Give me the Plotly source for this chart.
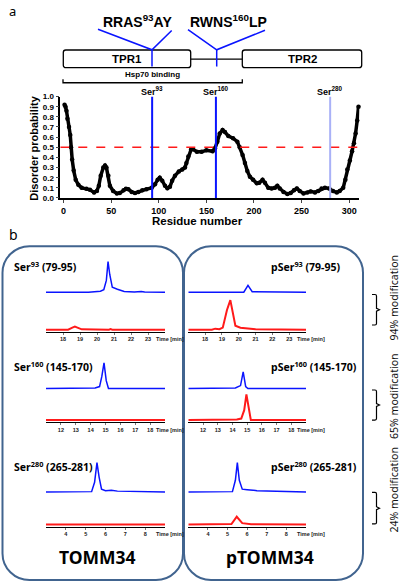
import plotly.graph_objects as go

W, H = 400, 588

# ---------------- data ----------------
residue = [1, 2, 3, 4, 5.7, 7, 7.8, 9, 10.6, 12.7, 15.5, 19, 24, 27.7, 32, 35, 37, 39, 41.7, 43.5, 45, 47, 48.6,
           52, 56, 59, 63, 65.5, 68, 71.5, 75, 78.5, 82.7, 87, 92.5, 96, 98.8, 101, 103.6, 106.5, 109, 111.7,
           114, 117, 121, 124.7, 127.5, 129, 131, 134, 136, 140, 145, 150, 156.5, 159, 161.5, 164, 167, 169.5,
           173, 178, 182.5, 185, 188, 190.5, 193, 195.7, 199, 203, 205.5, 209, 211.5, 215, 218.5, 222, 224.5,
           227, 231, 235, 238.5, 242, 245, 248, 252, 256, 259.5, 264, 267.5, 271, 274.5, 279, 283, 287, 290,
           293.7, 296, 298, 300.7, 303, 305, 306.7, 308.4, 309.8]
disorder = [0.92, 0.90, 0.86, 0.78, 0.70, 0.62, 0.50, 0.38, 0.27, 0.18, 0.13, 0.10, 0.09, 0.08, 0.055, 0.07, 0.12,
            0.22, 0.30, 0.32, 0.30, 0.22, 0.12, 0.07, 0.045, 0.048, 0.077, 0.09, 0.087, 0.06, 0.048, 0.06, 0.077,
            0.087, 0.10, 0.135, 0.18, 0.20, 0.17, 0.12, 0.095, 0.11, 0.17, 0.22, 0.26, 0.28, 0.30, 0.345, 0.41,
            0.48, 0.48, 0.455, 0.455, 0.47, 0.46, 0.49, 0.555, 0.635, 0.67, 0.65, 0.61, 0.59, 0.555, 0.50, 0.425,
            0.345, 0.265, 0.21, 0.18, 0.145, 0.15, 0.18, 0.15, 0.10, 0.094, 0.10, 0.12, 0.094, 0.06, 0.04, 0.048,
            0.077, 0.094, 0.07, 0.045, 0.055, 0.065, 0.055, 0.07, 0.094, 0.10, 0.094, 0.068, 0.055, 0.068, 0.10,
            0.18, 0.28, 0.37, 0.46, 0.54, 0.635, 0.765, 0.90]
ser_sites = [93, 160, 280]
x_ticks = [0, 50, 100, 150, 200, 250, 300]
y_ticks = [0, 0.1, 0.2, 0.3, 0.4, 0.5, 0.6, 0.7, 0.8, 0.9, 1.0]

# chromatograms: (unmodified blue, unmodified red) / (phospho blue, phospho red)
s93_blue_t = [17, 19.5, 20.2, 20.4, 20.55, 20.65, 20.75, 20.9, 21.2, 21.6, 22.2, 22.6, 22.8, 24]
s93_blue_i = [0, 0, 1, 2.5, 12, 31, 18, 5, 3, 0.8, 0.3, 0.8, 0.2, 0]
s93_red_t = [17, 18.3, 18.55, 18.7, 18.85, 19.1, 20.7, 20.8, 20.9, 24]
s93_red_i = [0, 0, 2, 3, 2, 0.3, 0, 0.6, 0, 0]
p93_blue_t = [17, 20.3, 20.55, 20.8, 24]
p93_blue_i = [0, 0, 7, 0.5, 0]
p93_red_t = [17, 18.4, 18.6, 18.85, 19.05, 19.3, 19.5, 19.65, 19.8, 20.1, 20.5, 21.0, 24]
p93_red_i = [0, 0, 1, 0.4, 2, 20, 30, 15, 4, 2, 1, 0.5, 0]

s160_blue_t = [11, 13.8, 14.3, 14.6, 14.75, 14.9, 15.05, 15.2, 19]
s160_blue_i = [0, 0, 0.5, 2, 12, 26, 8, 0, 0]
s160_red_t = [11, 19]
s160_red_i = [0, 0]
p160_blue_t = [11, 13.5, 14.2, 14.55, 14.73, 14.9, 15.05, 19]
p160_blue_i = [0, 0.3, 0.5, 3, 17, 2, 0, 0]
p160_red_t = [11, 13.8, 14.3, 14.6, 14.8, 14.95, 15.1, 15.25, 19]
p160_red_i = [0, 0.3, 0.5, 1.5, 10, 26, 12, 0, 0]

s280_blue_t = [3, 5.3, 5.45, 5.57, 5.68, 5.8, 6.0, 6.3, 6.6, 7.5, 9]
s280_blue_i = [0, 0.5, 10, 30, 15, 3, 1.5, 2, 1, 0.5, 0]
s280_red_t = [3, 9]
s280_red_i = [0, 0]
p280_blue_t = [3, 5.25, 5.4, 5.5, 5.6, 5.75, 6.0, 6.5, 7.5, 9]
p280_blue_i = [0, 0.5, 12, 30, 12, 3, 2.5, 1.5, 0.8, 0]
p280_red_t = [3, 5.2, 5.47, 5.75, 6.2, 9]
p280_red_i = [0, 0.5, 8, 1.5, 0.3, 0]

time_ranges = [[17, 24], [11, 19], [3, 9]]
time_ticks = [[18, 19, 20, 21, 22, 23], [12, 13, 14, 15, 16, 17, 18], [4, 5, 6, 7, 8]]
peptide_labels = ["Ser<sup>93</sup> (79-95)", "Ser<sup>160</sup> (145-170)", "Ser<sup>280</sup> (265-281)"]
phospho_labels = ["pSer<sup>93</sup> (79-95)", "pSer<sup>160</sup> (145-170)", "pSer<sup>280</sup> (265-281)"]
modification = ["94% modification", "65% modification", "24% modification"]

# ---------------- helpers ----------------
def px(x):
    return x / W


def py(y):
    return 1 - y / H


def P(x, y):
    return f"{px(x):.5f},{py(y):.5f}"


def rounded_rect(x0, y0, x1, y1, r):
    k = 0.5523 * r
    return (f"M {P(x0 + r, y0)} L {P(x1 - r, y0)} C {P(x1 - r + k, y0)} {P(x1, y0 + r - k)} {P(x1, y0 + r)} "
            f"L {P(x1, y1 - r)} C {P(x1, y1 - r + k)} {P(x1 - r + k, y1)} {P(x1 - r, y1)} "
            f"L {P(x0 + r, y1)} C {P(x0 + r - k, y1)} {P(x0, y1 - r + k)} {P(x0, y1 - r)} "
            f"L {P(x0, y0 + r)} C {P(x0, y0 + r - k)} {P(x0 + r - k, y0)} {P(x0 + r, y0)} Z")


ARIAL = "Liberation Sans, Arial, sans-serif"
CAL = "Noto Sans, Open Sans, sans-serif"
BLUE = "#0a14ff"
RED = "#ff1a1a"
BOXC = "#41648f"

fig = go.Figure()
shapes = []
ann = []


def text(x, y, s, size, family=ARIAL, bold=False, xanchor="center", angle=0, color="black"):
    ann.append(dict(x=px(x), y=py(y), xref="paper", yref="paper", text=s, showarrow=False,
                    xanchor=xanchor, yanchor="middle", textangle=angle,
                    font=dict(family=family, size=size, color=color, weight="bold" if bold else "normal")))


layout = dict(width=W, height=H, margin=dict(l=0, r=0, t=0, b=0), paper_bgcolor="white",
              plot_bgcolor="rgba(0,0,0,0)", showlegend=False, font=dict(family=ARIAL, color="black"))

# ---------------- panel a: disorder plot ----------------
xr = [-3.5, 310.6]
x0p, x1p = 63.6 + 0.952 * xr[0], 63.6 + 0.952 * xr[1]
layout["xaxis"] = dict(domain=[px(x0p), px(x1p)], range=xr, showline=True, linecolor="black", linewidth=1.5,
                       ticks="outside", ticklen=3, tickwidth=1.2, tickvals=x_ticks, showgrid=False, zeroline=False,
                       tickfont=dict(family=ARIAL, size=9, weight="bold"), anchor="y")
layout["yaxis"] = dict(domain=[py(197), py(94)], range=[0, 1.0], showline=True, linecolor="black", linewidth=1.5,
                       ticks="outside", ticklen=3, tickwidth=1.2, tickvals=y_ticks,
                       ticktext=[f"{v:.1f}" for v in y_ticks], showgrid=False, zeroline=False,
                       tickfont=dict(family=ARIAL, size=8, weight="bold"), anchor="x")
fig.add_trace(go.Scatter(x=residue, y=disorder, mode="lines+markers", xaxis="x", yaxis="y",
                         line=dict(color="black", width=3.5), marker=dict(color="black", size=4.5),
                         cliponaxis=False, hoverinfo="skip"))
shapes.append(dict(type="line", xref="x", yref="y", x0=xr[0], x1=311, y0=0.5, y1=0.5,
                   line=dict(color=RED, width=1.3, dash="dash")))
for s in ser_sites:
    col = "#a9b1f7" if s == 280 else BLUE
    shapes.append(dict(type="line", xref="x", yref="y", x0=s, x1=s, y0=0, y1=1.0, line=dict(color=col, width=2)))
    text(63.6 + 0.952 * s, 88, f"Ser<sup>{s}</sup>", 9, bold=True)
text(34, 147, "Disorder probability", 11, bold=True, angle=-90)
text(197, 220, "Residue number", 11.5, bold=True)

# domain schematic
text(12, 7, "a", 13, family=CAL)
shapes.append(dict(type="line", xref="paper", yref="paper", x0=px(190.7), x1=px(242.3), y0=py(56), y1=py(56),
                   line=dict(color="black", width=1.3)))
shapes.append(dict(type="path", xref="paper", yref="paper", path=rounded_rect(63.3, 46.7, 190.7, 64.7, 2.5),
                   line=dict(color="black", width=1.3), fillcolor="white"))
shapes.append(dict(type="path", xref="paper", yref="paper", path=rounded_rect(242.3, 46.7, 361.7, 64.7, 2.5),
                   line=dict(color="black", width=1.3), fillcolor="white"))
text(127, 56, "TPR1", 11.5, bold=True)
text(302, 56, "TPR2", 11.5, bold=True)
for (xa, ya), (xb, yb), xv in [((98, 25.7), (171.7, 27), 152), ((188, 26), (265, 26.7), 216.7)]:
    yj = 46.5
    shapes.append(dict(type="path", xref="paper", yref="paper",
                       path=f"M {P(xa, ya)} L {P(xv, yj)} L {P(xb, yb)}", line=dict(color=BLUE, width=1.5)))
    shapes.append(dict(type="line", xref="paper", yref="paper", x0=px(xv), x1=px(xv), y0=py(yj), y1=py(63.5),
                       line=dict(color=BLUE, width=1.5)))
text(137, 17, "RRAS<sup>93</sup>AY", 14, bold=True)
text(228.5, 17, "RWNS<sup>160</sup>LP", 14, bold=True)
text(152, 72, "Hsp70 binding", 8, bold=True)
shapes.append(dict(type="path", xref="paper", yref="paper",
                   path=f"M {P(63, 76.5)} L {P(63, 80)} L {P(242.3, 80)} L {P(242.3, 76.5)}",
                   line=dict(color="black", width=1.3)))

# ---------------- panel b: chromatograms ----------------
text(13, 234, "b", 14, family=CAL)
shapes.append(dict(type="path", xref="paper", yref="paper", path=rounded_rect(2.5, 246, 183, 585, 27),
                   line=dict(color=BOXC, width=2)))
shapes.append(dict(type="path", xref="paper", yref="paper", path=rounded_rect(184, 246, 363, 585, 27),
                   line=dict(color=BOXC, width=2)))

rows = [
    (292.7, 330.7, [(s93_blue_t, s93_blue_i, s93_red_t, s93_red_i), (p93_blue_t, p93_blue_i, p93_red_t, p93_red_i)]),
    (390.5, 422.5, [(s160_blue_t, s160_blue_i, s160_red_t, s160_red_i), (p160_blue_t, p160_blue_i, p160_red_t, p160_red_i)]),
    (495.7, 528.7, [(s280_blue_t, s280_blue_i, s280_red_t, s280_red_i), (p280_blue_t, p280_blue_i, p280_red_t, p280_red_i)]),
]
label_y = [267, 368, 470]
col_x = [(46, 165), (188.3, 306)]
ax = 2
for ri, (by, ry, panels) in enumerate(rows):
    for ci, (bt, bi, rt, rii) in enumerate(panels):
        xa0, xa1 = col_x[ci]
        dom = [px(xa0), px(xa1)]
        xb, yb = f"x{ax}", f"y{ax}"
        layout[f"xaxis{ax}"] = dict(domain=dom, range=time_ranges[ri], visible=False, anchor=yb)
        layout[f"yaxis{ax}"] = dict(domain=[py(by + 2), py(by - 40)], range=[-2, 40], visible=False, anchor=xb)
        fig.add_trace(go.Scatter(x=bt, y=bi, mode="lines", xaxis=xb, yaxis=yb, line=dict(color=BLUE, width=1.5),
                                 cliponaxis=False, hoverinfo="skip"))
        ax += 1
        xr_, yr_ = f"x{ax}", f"y{ax}"
        layout[f"xaxis{ax}"] = dict(domain=dom, range=time_ranges[ri], anchor=yr_, showline=True,
                                    linecolor="black", linewidth=1.2, ticks="outside", ticklen=2, tickwidth=0.8,
                                    tickcolor="#777", tickvals=time_ticks[ri], showgrid=False, zeroline=False,
                                    tickfont=dict(family=ARIAL, size=5.5, weight="bold", color="#222"))
        layout[f"yaxis{ax}"] = dict(domain=[py(ry + 2), py(ry - 40)], range=[-2, 40], visible=False, anchor=xr_)
        fig.add_trace(go.Scatter(x=rt, y=rii, mode="lines", xaxis=xr_, yaxis=yr_, line=dict(color=RED, width=2),
                                 cliponaxis=False, hoverinfo="skip"))
        ax += 1
        text(xa1 - 11, ry + 10, "Time [min]", 5.5, bold=True, xanchor="left", color="#222")
    text(12, label_y[ri], peptide_labels[ri], 10.5, family=CAL, bold=True, xanchor="left")
    text(269, label_y[ri], phospho_labels[ri], 10.5, family=CAL, bold=True, xanchor="left")

# braces and modification labels
brace_y = [(295, 326), (392, 422.5), (496, 528)]
mod_y = [299, 399, 494]
for (y0, y1), my, txt in zip(brace_y, mod_y, modification):
    ym = (y0 + y1) / 2
    shapes.append(dict(type="path", xref="paper", yref="paper",
                       path=(f"M {P(372, y0)} L {P(375, y0)} Q {P(376.5, y0)} {P(376.5, y0 + 1.5)} "
                             f"L {P(376.5, ym - 1.5)} L {P(379.5, ym)} L {P(376.5, ym + 1.5)} "
                             f"L {P(376.5, y1 - 1.5)} Q {P(376.5, y1)} {P(375, y1)} L {P(372, y1)}"),
                       line=dict(color="black", width=1.2)))
    text(394, my, txt, 10.5, family=CAL, angle=-90, color="#111")

text(97.5, 562, "TOMM34", 17.5, family=CAL, bold=True)
text(270, 562, "pTOMM34", 17.5, family=CAL, bold=True)

layout["shapes"] = shapes
layout["annotations"] = ann
fig.update_layout(**layout)
fig.write_html("out.html", config={"displayModeBar": False},
               post_script="document.body.style.margin='0px';document.body.style.overflow='hidden';")
